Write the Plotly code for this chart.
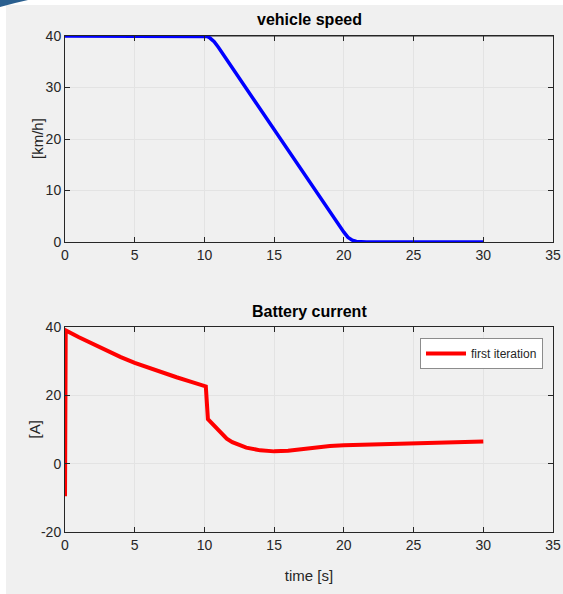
import plotly.graph_objects as go

# Vehicle speed [km/h]
speed_t = [0, 2, 4, 6, 8, 10, 10.2, 10.4, 10.7, 11, 12, 13, 14, 15, 16, 17, 18, 19, 20, 20.3, 20.6, 20.9, 21.2, 21.6, 22, 25, 30]
speed_v = [40, 40, 40, 40, 40, 40, 39.9, 39.6, 38.9, 37.8, 33.8, 29.8, 25.8, 21.8, 17.8, 13.8, 9.8, 5.8, 1.9, 0.9, 0.35, 0.12, 0.04, 0.01, 0, 0, 0]

# Battery current [A]
curr_t = [0, 0.05, 1, 2, 3, 4, 5, 6, 7, 8, 9, 10, 10.1, 10.25, 10.6, 11, 11.6, 12, 12.5, 13, 14, 15, 16, 17, 18, 19, 20, 25, 30]
curr_v = [-9.5, 39, 37, 35, 33.1, 31.2, 29.5, 28, 26.6, 25.3, 24, 22.9, 22.6, 13, 11.5, 9.6, 7.3, 6.3, 5.4, 4.7, 3.9, 3.6, 3.8, 4.3, 4.8, 5.2, 5.4, 5.9, 6.5]

x_ticks = [0, 5, 10, 15, 20, 25, 30, 35]
speed_ticks = [0, 10, 20, 30, 40]
curr_ticks = [-20, 0, 20, 40]

W, H = 563, 594
FONT = "Liberation Sans Narrow, Liberation Sans, Arial, sans-serif"
DARK = "#262626"

fig = go.Figure()
fig.add_trace(go.Scatter(x=speed_t, y=speed_v, mode="lines", line=dict(color="#0000ff", width=3.5),
                         xaxis="x", yaxis="y", showlegend=False))
fig.add_trace(go.Scatter(x=curr_t, y=curr_v, mode="lines", line=dict(color="#ff0000", width=4),
                         xaxis="x2", yaxis="y2", name="first iteration", showlegend=True))

xdom = [65 / W, 553 / W]
ydom1 = [1 - 242 / H, 1 - 36 / H]
ydom2 = [1 - 532 / H, 1 - 327 / H]

common_ax = dict(showline=True, linecolor=DARK, linewidth=1, mirror="ticks", ticks="inside",
                 ticklen=5, tickcolor=DARK, showgrid=True, gridcolor="#e3e3e3", gridwidth=1,
                 zeroline=False, automargin=False, tickfont=dict(family=FONT, size=14, color=DARK))

fig.update_layout(
    width=W, height=H,
    margin=dict(l=0, r=0, t=0, b=0, pad=0, autoexpand=False),
    paper_bgcolor="white", plot_bgcolor="white",
    font=dict(family=FONT, color=DARK),
    xaxis=dict(domain=xdom, range=[0, 35], tickvals=x_ticks, anchor="y", **common_ax),
    yaxis=dict(domain=ydom1, range=[0, 40], tickvals=speed_ticks, anchor="x", **common_ax),
    xaxis2=dict(domain=xdom, range=[0, 35], tickvals=x_ticks, anchor="y2",
                title=dict(text="time [s]", font=dict(family=FONT, size=15, color=DARK), standoff=18), **common_ax),
    yaxis2=dict(domain=ydom2, range=[-20, 40], tickvals=curr_ticks, ticktext=[str(v) for v in curr_ticks],
                anchor="x2", **common_ax),
    legend=dict(x=543 / W, y=1 - 338 / H, xanchor="right", yanchor="top", bgcolor="white",
                bordercolor="#8c8c8c", borderwidth=1, font=dict(family=FONT, size=12, color=DARK),
                itemwidth=40),
    shapes=[
        dict(type="rect", xref="paper", yref="paper", x0=6 / W, x1=1, y0=0, y1=1 - 5 / H,
             fillcolor="#f0f0f0", line=dict(width=0), layer="below"),
        dict(type="path", xref="paper", yref="paper",
             path=f"M 0 1 L {28/W} 1 Q {14/W} {1-3/H} 0 {1-7/H} Z",
             fillcolor="#2a5f8f", line=dict(width=0)),
        dict(type="line", xref="x", yref="paper", x0=0, x1=35, y0=ydom1[1], y1=ydom1[1],
             line=dict(color="#8c8c8c", width=2), layer="below"),
    ],
    annotations=[
        dict(text="<b>vehicle speed</b>", xref="paper", yref="paper", x=(xdom[0] + xdom[1]) / 2,
             y=1 - 20 / H, xanchor="center", yanchor="middle", showarrow=False,
             font=dict(family=FONT, size=16, color="black")),
        dict(text="<b>Battery current</b>", xref="paper", yref="paper", x=(xdom[0] + xdom[1]) / 2,
             y=1 - 311 / H, xanchor="center", yanchor="middle", showarrow=False,
             font=dict(family=FONT, size=16, color="black")),
        dict(text="[km/h]", xref="paper", yref="paper", x=37 / W, y=(ydom1[0] + ydom1[1]) / 2,
             xanchor="center", yanchor="middle", textangle=-90, showarrow=False,
             font=dict(family=FONT, size=15, color=DARK)),
        dict(text="[A]", xref="paper", yref="paper", x=34 / W, y=(ydom2[0] + ydom2[1]) / 2,
             xanchor="center", yanchor="middle", textangle=-90, showarrow=False,
             font=dict(family=FONT, size=15, color=DARK)),
    ],
)

fig.write_html("out.html", config={"displayModeBar": False},
               post_script="document.body.style.margin='0';document.body.style.overflow='hidden';")
